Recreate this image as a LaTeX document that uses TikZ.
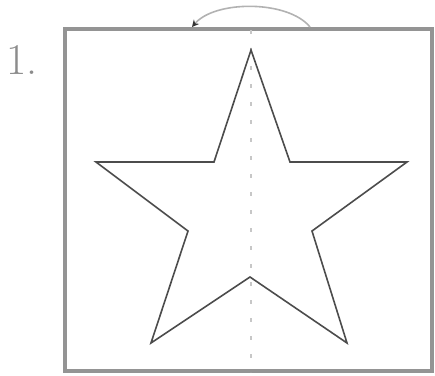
\documentclass[tikz,border=0pt]{standalone}
\usetikzlibrary{arrows.meta}
\begin{document}
\begin{tikzpicture}[x=1pt,y=-1pt,
  boxline/.style={draw=black!42,line width=3.5pt},
  starline/.style={draw=black!70,line width=1.6pt,line join=miter},
  axisline/.style={draw=black!22,line width=1.6pt,dash pattern=on 4pt off 14pt},
  arcline/.style={draw=black!30,line width=1.6pt},
  lbl/.style={text=black!45,font=\fontsize{44}{44}\selectfont,inner sep=0pt}]
\useasboundingbox (0,0) rectangle (435,375);
\node[lbl,anchor=base west] (num) at (6,74) {1.};
\draw[boxline] (65,29) rectangle (432,371);
\coordinate (ax1) at (251,30);
\coordinate (ax2) at (251,372);
\draw[axisline] (ax1) -- (ax2);
\coordinate (p1) at (251,50);
\coordinate (p2) at (290,162);
\coordinate (p3) at (407,162);
\coordinate (p4) at (312,231);
\coordinate (p5) at (347,343);
\coordinate (p6) at (250,277);
\coordinate (p7) at (151,343);
\coordinate (p8) at (188,231);
\coordinate (p9) at (96,162);
\coordinate (p10) at (214,162);
\draw[starline] (p1) -- (p2) -- (p3) -- (p4) -- (p5) -- (p6) -- (p7) -- (p8) -- (p9) -- (p10) -- cycle;
\coordinate (a1) at (192,27);
\coordinate (a2) at (310,27);
\draw[arcline,{Stealth[length=7pt,width=7pt,color=black!80]}-] (a1) .. controls (215,0) and (288,0) .. (a2);
\end{tikzpicture}
\end{document}
